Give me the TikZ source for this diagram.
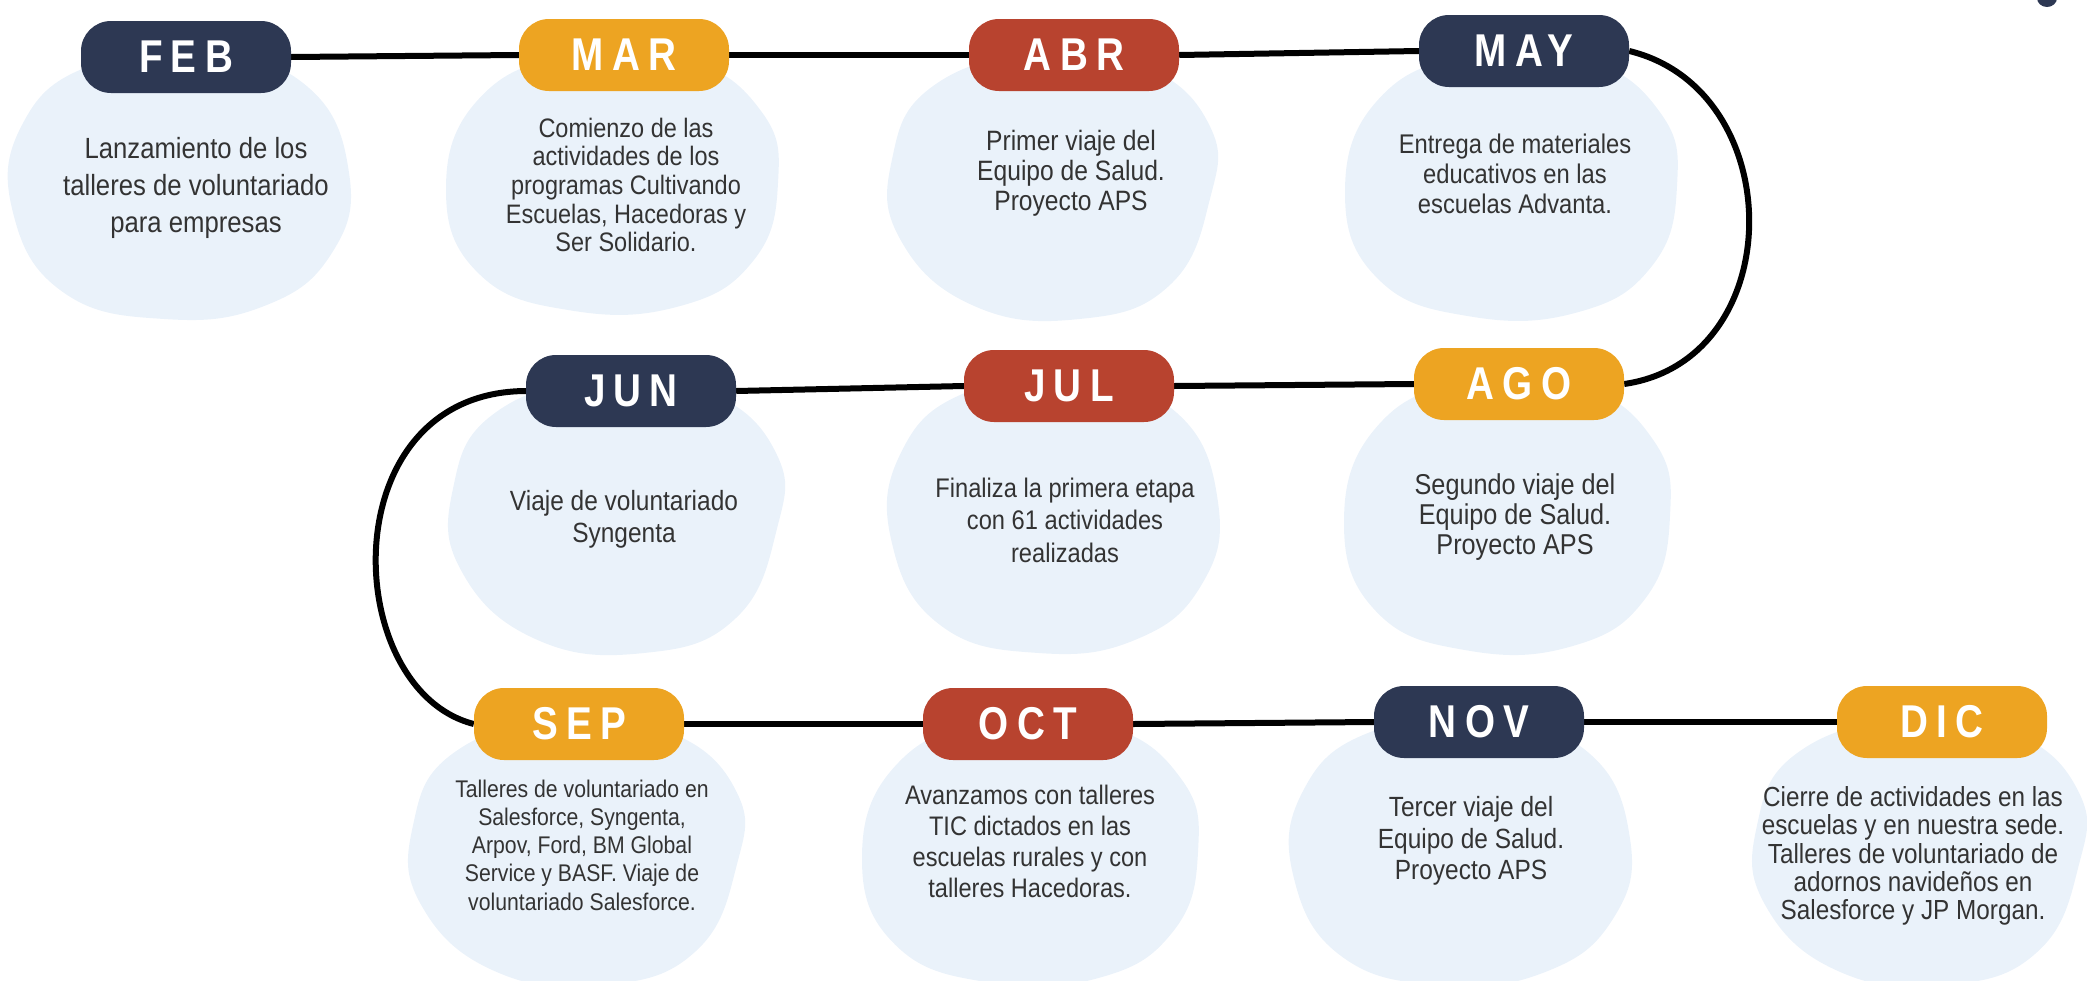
\documentclass[tikz,border=0pt]{standalone}
\usepackage{fontspec}
\setmainfont{Liberation Sans}
\newfontfamily\bodyfont[FakeStretch=0.88]{Liberation Sans}
\newfontfamily\monthfont[FakeStretch=0.84,LetterSpace=18]{Liberation Sans}
\definecolor{navyc}{HTML}{2D3853}
\definecolor{orangec}{HTML}{EDA422}
\definecolor{redc}{HTML}{B8432F}
\definecolor{blobc}{HTML}{EAF2FA}
\definecolor{txtc}{HTML}{333333}
\pgfdeclarelayer{blobs}
\pgfdeclarelayer{lines}
\pgfsetlayers{blobs,lines,main}
\newcommand\blobA[4]{\begin{scope}[shift={(#1,#2)},xscale=#3,yscale=#4]
\fill[blobc] plot[smooth cycle,tension=0.75] coordinates {(1.0,-0.1) (0.9,0.5) (0.5,0.9) (-0.1,1.0) (-0.7,0.8) (-1.0,0.2) (-0.95,-0.45) (-0.55,-0.9) (0.15,-1.0) (0.75,-0.75)};\end{scope}}
\newcommand\blobB[4]{\begin{scope}[shift={(#1,#2)},xscale=#3,yscale=#4]
\fill[blobc] plot[smooth cycle,tension=0.75] coordinates {(0.95,0.1) (0.7,0.75) (0.15,1.0) (-0.5,0.9) (-0.95,0.4) (-1.0,-0.2) (-0.75,-0.75) (-0.1,-1.0) (0.55,-0.9) (0.95,-0.45)};\end{scope}}
\newcommand\blobC[4]{\begin{scope}[shift={(#1,#2)},xscale=#3,yscale=#4]
\fill[blobc] plot[smooth cycle,tension=0.75] coordinates {(1.0,0.0) (0.85,0.6) (0.4,0.95) (-0.25,0.98) (-0.8,0.7) (-1.0,0.05) (-0.8,-0.65) (-0.25,-0.98) (0.45,-0.95) (0.9,-0.55)};\end{scope}}
\begin{document}
\begin{tikzpicture}[x=1pt,y=-1pt,
  pill/.style={rounded corners=30pt, minimum width=210pt, minimum height=72pt, inner sep=0pt, text=white, font={\monthfont\bfseries\fontsize{46pt}{46pt}\selectfont}},
  desc/.style={align=center, text=txtc, inner sep=0pt},
  conn/.style={line width=6pt, black}]
\useasboundingbox (0,0) rectangle (2087,980);
\begin{pgfonlayer}{blobs}
\blobA{181}{186}{168}{133}
\blobC{612}{183}{166}{130}
\blobB{1055}{186}{163}{133}
\blobC{1511}{186}{166}{133}
\blobB{619}{516}{166}{137}
\blobA{1055}{516}{163}{137}
\blobC{1507}{516}{163}{137}
\blobB{579}{852}{166}{133}
\blobC{1030}{852}{168}{133}
\blobA{1462}{852}{168}{133}
\blobB{1922}{852}{165}{133}
\end{pgfonlayer}
% pills
\node[pill, fill=navyc]   (feb) at (186,57)  {FEB};
\node[pill, fill=orangec] (mar) at (624,55)  {MAR};
\node[pill, fill=redc]    (abr) at (1074,55) {ABR};
\node[pill, fill=navyc]   (may) at (1524,51) {MAY};
\node[pill, fill=navyc]   (jun) at (631,391) {JUN};
\node[pill, fill=redc]    (jul) at (1069,386) {JUL};
\node[pill, fill=orangec] (ago) at (1519,384) {AGO};
\node[pill, fill=orangec] (sep) at (579,724) {SEP};
\node[pill, fill=redc]    (oct) at (1028,724) {OCT};
\node[pill, fill=navyc]   (nov) at (1479,722) {NOV};
\node[pill, fill=orangec] (dic) at (1942,722) {DIC};
% texts
\node[desc, font={\bodyfont\fontsize{29.2pt}{36.6pt}\selectfont}] (febt) at (196,188) {Lanzamiento de los\\talleres de voluntariado\\para empresas};
\node[desc, font={\bodyfont\fontsize{26.7pt}{28.6pt}\selectfont}] (mart) at (626,185) {Comienzo de las\\actividades de los\\programas Cultivando\\Escuelas, Hacedoras y\\Ser Solidario.};
\node[desc, font={\bodyfont\fontsize{28pt}{30pt}\selectfont}] (abrt) at (1071,173) {Primer viaje del\\Equipo de Salud.\\Proyecto APS};
\node[desc, font={\bodyfont\fontsize{27pt}{30pt}\selectfont}] (mayt) at (1515,174) {Entrega de materiales\\educativos en las\\escuelas Advanta.};
\node[desc, font={\bodyfont\fontsize{27.8pt}{32pt}\selectfont}] (junt) at (624,519) {Viaje de voluntariado\\Syngenta};
\node[desc, font={\bodyfont\fontsize{26.9pt}{32.6pt}\selectfont}] (jult) at (1065,520) {Finaliza la primera etapa\\con 61 actividades\\realizadas};
\node[desc, font={\bodyfont\fontsize{28.7pt}{30pt}\selectfont}] (agot) at (1515,517) {Segundo viaje del\\Equipo de Salud.\\Proyecto APS};
\node[desc, font={\bodyfont\fontsize{24.1pt}{28.3pt}\selectfont}] (sept) at (582,845) {Talleres de voluntariado en\\Salesforce, Syngenta,\\Arpov, Ford, BM Global\\Service y BASF. Viaje de\\voluntariado Salesforce.};
\node[desc, font={\bodyfont\fontsize{26.8pt}{31pt}\selectfont}] (octt) at (1030,841) {Avanzamos con talleres\\TIC dictados en las\\escuelas rurales y con\\talleres Hacedoras.};
\node[desc, font={\bodyfont\fontsize{27.8pt}{31.3pt}\selectfont}] (novt) at (1471,841) {Tercer viaje del\\Equipo de Salud.\\Proyecto APS};
\node[desc, font={\bodyfont\fontsize{27.6pt}{28.3pt}\selectfont}] (dict) at (1913,856) {Cierre de actividades en las\\escuelas y en nuestra sede.\\Talleres de voluntariado de\\adornos navideños en\\Salesforce y JP Morgan.};
% connectors
\begin{pgfonlayer}{lines}
\draw[conn] (feb.east) -- (mar.west);
\draw[conn] (mar.east) -- (abr.west);
\draw[conn] (abr.east) -- (may.west);
\draw[conn] (may.east) .. controls (1790,90) and (1790,360) .. (ago.east);
\draw[conn] (ago.west) -- (jul.east);
\draw[conn] (jul.west) -- (jun.east);
\draw[conn] (jun.west) .. controls (330,392) and (340,690) .. (sep.west);
\draw[conn] (sep.east) -- (oct.west);
\draw[conn] (oct.east) -- (nov.west);
\draw[conn] (nov.east) -- (dic.west);
\end{pgfonlayer}
\fill[navyc] (2047,-2) ellipse (10 and 9);
\end{tikzpicture}
\end{document}
